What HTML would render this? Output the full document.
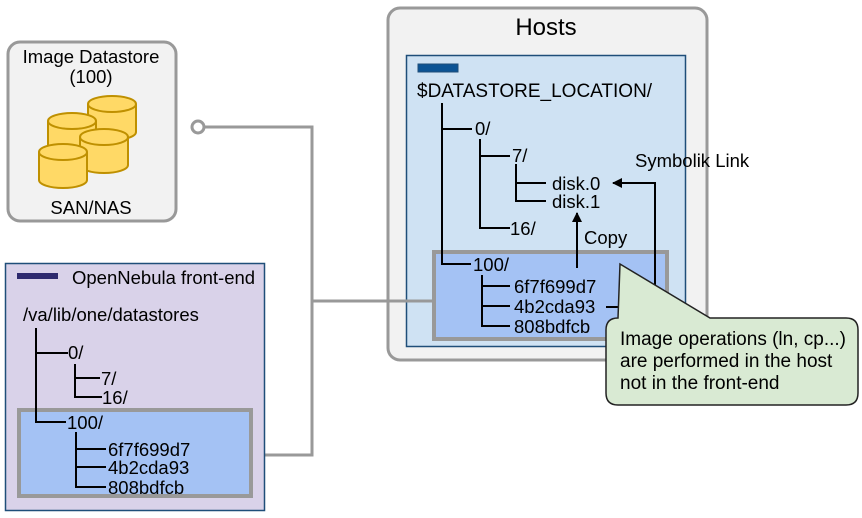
<!DOCTYPE html>
<html><head><meta charset="utf-8"><style>html,body{margin:0;padding:0;background:#fff}svg{display:block}text{font-family:"Liberation Sans",Arial,sans-serif;fill:#000}</style></head>
<body>
<svg width="862" height="518" viewBox="0 0 862 518" xmlns="http://www.w3.org/2000/svg">
<defs>
<g id="cyl"><path d="M0,0 v28 a24,8 0 0 0 48,0 v-28" fill="#ffd966" stroke="#bf9000" stroke-width="2"/><ellipse cx="24" cy="0" rx="24" ry="8" fill="#ffd966" stroke="#bf9000" stroke-width="2"/></g>
<marker id="ah" markerWidth="10" markerHeight="10" refX="9" refY="5" orient="auto" markerUnits="userSpaceOnUse"><path d="M0,0 L10,5 L0,10 z" fill="#000"/></marker>
</defs>
<!-- image datastore -->
<rect x="8" y="42" width="168" height="179" rx="12" fill="#f2f2f2" stroke="#999" stroke-width="3"/>
<text x="91" y="63" font-size="18.5" text-anchor="middle">Image Datastore</text>
<text x="91" y="83" font-size="18.5" text-anchor="middle">(100)</text>
<use href="#cyl" x="88" y="104"/>
<use href="#cyl" x="48" y="121"/>
<use href="#cyl" x="80" y="137"/>
<use href="#cyl" x="39" y="152"/>
<text x="91" y="214" font-size="18.5" text-anchor="middle">SAN/NAS</text>
<!-- hosts -->
<rect x="388" y="8" width="319" height="352" rx="12" fill="#f2f2f2" stroke="#999" stroke-width="3"/>
<text x="546" y="35" font-size="24" text-anchor="middle">Hosts</text>
<rect x="406.5" y="55.5" width="279" height="291" fill="#cfe2f3" stroke="#1f4e79" stroke-width="1.5"/>
<!-- connectors -->
<g fill="none" stroke="#999" stroke-width="3">
<polyline points="204,127 312,127 312,455 252,455"/>
<line x1="312" y1="301" x2="434" y2="301"/>
</g>
<circle cx="198" cy="127" r="6" fill="#fff" stroke="#999" stroke-width="3"/>
<rect x="418" y="64" width="40" height="8" fill="#0b5394" stroke="#1f4e79"/>
<text x="417" y="97" font-size="19">$DATASTORE_LOCATION/</text>
<rect x="434" y="252" width="233" height="87" fill="#a4c2f4" stroke="#999" stroke-width="4"/>
<g fill="none" stroke="#000" stroke-width="2">
<polyline points="442,103 442,264 471,264"/>
<line x1="442" y1="129" x2="472" y2="129"/>
<polyline points="480,139 480,228 510,228"/>
<line x1="480" y1="156" x2="510" y2="156"/>
<polyline points="516,164 516,201 546,201"/>
<line x1="516" y1="183" x2="546" y2="183"/>
<polyline points="482,275 482,326 510,326"/>
<line x1="482" y1="286" x2="510" y2="286"/>
<line x1="482" y1="306" x2="510" y2="306"/>
<line x1="577" y1="268" x2="577" y2="213" marker-end="url(#ah)"/>
<polyline points="606,307 655,307 655,183 613,183" marker-end="url(#ah)"/>
</g>
<g font-size="18.5">
<text x="475" y="135">0/</text>
<text x="512" y="162">7/</text>
<text x="552" y="190">disk.0</text>
<text x="552" y="208">disk.1</text>
<text x="510" y="235">16/</text>
<text x="473" y="271">100/</text>
<text x="514" y="293">6f7f699d7</text>
<text x="514" y="313">4b2cda93</text>
<text x="514" y="333">808bdfcb</text>
<text x="584" y="244">Copy</text>
<text x="635" y="167">Symbolik Link</text>
</g>
<!-- callout -->
<path d="M618,318 L620,264 L710,318 L846,318 Q858,318 858,330 L858,393 Q858,405 846,405 L618,405 Q606,405 606,393 L606,330 Q606,318 618,318 Z" fill="#d9ead3" stroke="#222" stroke-width="1.5"/>
<g font-size="19">
<text x="620" y="345">Image operations (ln, cp...)</text>
<text x="620" y="367">are performed in the host</text>
<text x="620" y="389">not in the front-end</text>
</g>
<!-- front-end -->
<rect x="5.5" y="263.5" width="259" height="247" fill="#d9d2e9" stroke="#1f4e79" stroke-width="1.5"/>
<rect x="17" y="273" width="41" height="6" fill="#2e2a6e"/>
<text x="72" y="284" font-size="18.5">OpenNebula front-end</text>
<text x="23" y="321" font-size="18.5">/va/lib/one/datastores</text>
<rect x="19" y="410" width="232" height="86" fill="#a4c2f4" stroke="#999" stroke-width="4"/>
<g fill="none" stroke="#000" stroke-width="2">
<polyline points="36,328 36,422 66,422"/>
<line x1="36" y1="353" x2="68" y2="353"/>
<polyline points="75,364 75,397 102,397"/>
<line x1="75" y1="378" x2="100" y2="378"/>
<polyline points="76,432 76,487 106,487"/>
<line x1="76" y1="449" x2="106" y2="449"/>
<line x1="76" y1="467" x2="106" y2="467"/>
</g>
<g font-size="18.5">
<text x="68" y="359">0/</text>
<text x="101" y="385">7/</text>
<text x="102" y="404">16/</text>
<text x="67" y="429">100/</text>
<text x="108" y="456">6f7f699d7</text>
<text x="108" y="474">4b2cda93</text>
<text x="108" y="494">808bdfcb</text>
</g>
</svg>
</body></html>
